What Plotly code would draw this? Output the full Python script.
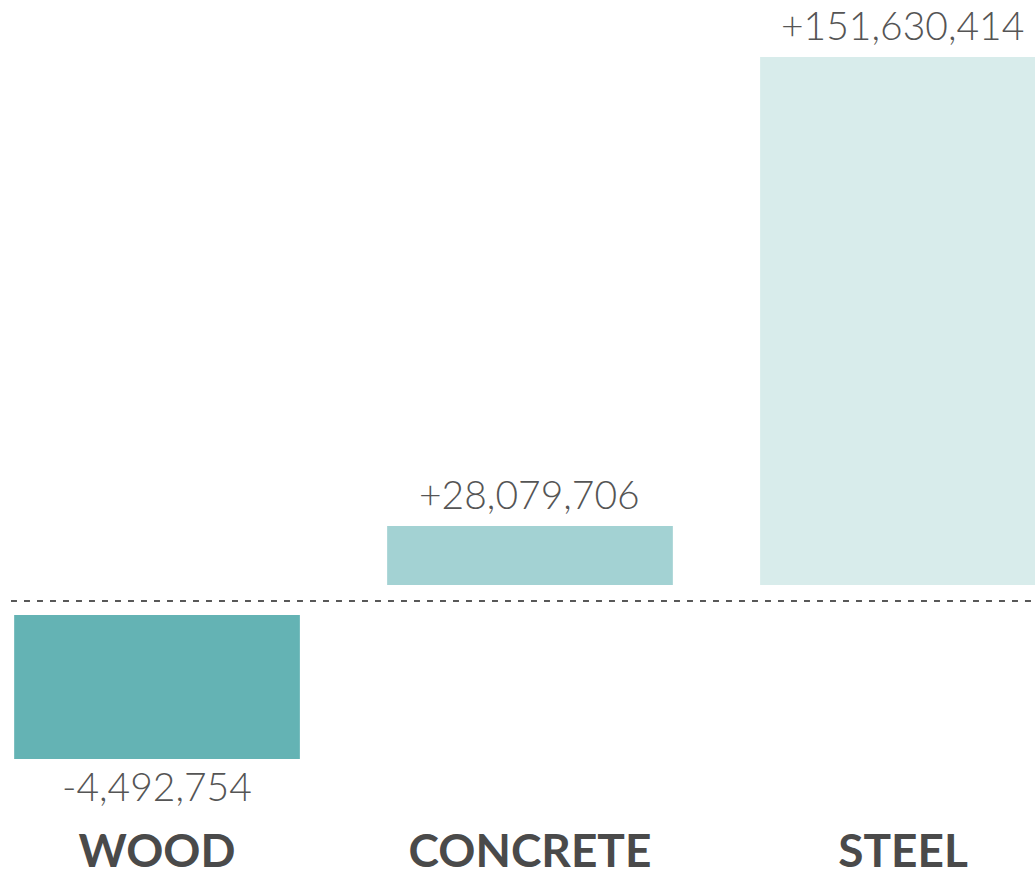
import plotly.graph_objects as go

# categories and the numbers printed on the chart
materials = ["WOOD", "CONCRETE", "STEEL"]
values = [-4492754, 28079706, 151630414]

# drawn bar heights (the graphic is not to scale)
bar_heights = [-144, 59, 528]
bar_bases = [-14, 16, 16]
colors = ["#64b3b4", "#a3d2d3", "#d8eceb"]

labels = [("+" if v > 0 else "-") + f"{abs(v):,}" for v in values]

fig = go.Figure(
    go.Bar(
        x=materials,
        y=bar_heights,
        base=bar_bases,
        marker=dict(color=colors, line=dict(width=0)),
        width=0.766,
        hoverinfo="skip",
    )
)

# value labels just outside the end of each bar
for m, h, b, t in zip(materials, bar_heights, bar_bases, labels):
    up = h > 0
    fig.add_annotation(
        x=m, y=b + h,
        text=t,
        showarrow=False,
        yanchor="bottom" if up else "top",
        yshift=7 if up else -2,
        font=dict(family="Lato", size=39, color="#555555", weight=300),
    )

# dashed zero line
fig.add_shape(
    type="line",
    xref="paper", yref="y",
    x0=0.0106, x1=1, y0=0, y1=0,
    line=dict(color="#222222", width=1.5, dash="6px,7px"),
)

fig.update_layout(
    width=1035,
    height=874,
    margin=dict(l=0, r=0, t=0, b=54),
    paper_bgcolor="white",
    plot_bgcolor="white",
    showlegend=False,
    xaxis=dict(
        range=[-0.421, 2.354],
        showgrid=False,
        zeroline=False,
        showline=False,
        ticks="",
        automargin=False,
        tickfont=dict(family="Lato", size=46, color="#4a4a4a", weight="bold"),
    ),
    yaxis=dict(
        range=[-219, 601],
        visible=False,
        automargin=False,
    ),
)

# drop the default page margin so the figure fills the window
fig.write_html(
    "out.html",
    config={"displayModeBar": False},
    post_script="document.body.style.margin='0';document.body.style.overflow='hidden';",
)
